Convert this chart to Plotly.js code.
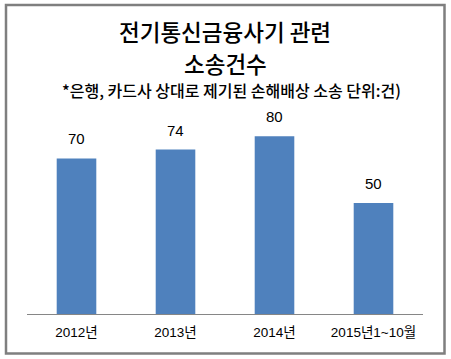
<!DOCTYPE html>
<html>
<head>
<meta charset="utf-8">
<script src="https://cdn.plot.ly/plotly-3.0.1.min.js"></script>
<style>html,body{margin:0;padding:0;background:#fff;}#chart{width:451px;height:359px;}</style>
</head>
<body>
<div id="chart"></div>
<script>
const categories = ["2012년", "2013년", "2014년", "2015년1~10월"];
const counts = [70, 74, 80, 50];
const titleLines = ["전기통신금융사기 관련", "소송건수"];
const subtitle = "*은행, 카드사 상대로 제기된 손해배상 소송 단위:건)";

const latin = "'Liberation Sans', Arial, 'Noto Sans CJK KR', sans-serif";
const kr = "'Noto Sans CJK KR', 'Liberation Sans', sans-serif";

const plotTop = 114, plotBottom = 314, plotLeft = 27, plotRight = 423;
const W = 451, H = 359;
const px = x => (x - plotLeft) / (plotRight - plotLeft);
const py = y => (plotBottom - y) / (plotBottom - plotTop);

const trace = {
  type: "bar",
  x: categories,
  y: counts,
  marker: {color: "#4f81bd"},
  hoverinfo: "none"
};

const annotations = categories.map((c, i) => ({
  x: c, y: counts[i], xref: "x", yref: "y",
  text: String(counts[i]), showarrow: false,
  yanchor: "bottom", yshift: 9,
  font: {family: latin, size: 15, color: "#000"}
}));
const titleY = [31.5, 63];
titleLines.forEach((t, i) => annotations.push(
  {xref: "paper", yref: "paper", x: px(225), y: py(titleY[i]), text: t, showarrow: false,
   xanchor: "center", yanchor: "middle", font: {family: kr, size: 22.5, color: "#000", weight: 500}}
));
annotations.push(
  {xref: "paper", yref: "paper", x: px(232), y: py(90), text: subtitle, showarrow: false,
   xanchor: "center", yanchor: "middle", font: {family: kr, size: 16, color: "#000", weight: 500}}
);

const layout = {
  width: W, height: H,
  margin: {l: plotLeft, r: W - plotRight, t: plotTop, b: H - plotBottom, pad: 0},
  paper_bgcolor: "#fff", plot_bgcolor: "#fff",
  showlegend: false,
  bargap: 0.6,
  xaxis: {
    type: "category",
    showline: true, linecolor: "#868686", linewidth: 1,
    ticks: "", showgrid: false, zeroline: false,
    tickfont: {family: latin, size: 13.5, color: "#000"},
    ticklabelstandoff: 6
  },
  yaxis: {
    range: [0, 90], visible: false, showgrid: false, zeroline: false
  },
  annotations: annotations,
  shapes: [{
    type: "rect", xref: "paper", yref: "paper",
    x0: px(6), x1: px(444.5), y0: py(5), y1: py(353.5),
    line: {color: "#7f7f7f", width: 2.5}, fillcolor: "rgba(0,0,0,0)", layer: "above"
  }]
};

Plotly.newPlot("chart", [trace], layout, {displayModeBar: false, staticPlot: true});
</script>
</body>
</html>
